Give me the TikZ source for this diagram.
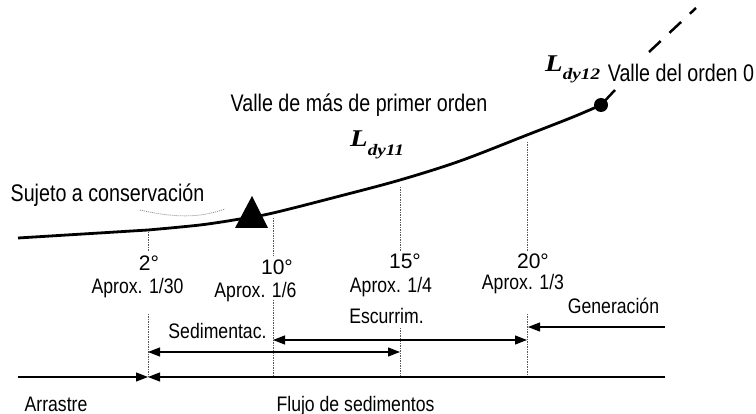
\documentclass[tikz,border=0pt]{standalone}
\usepackage{fontspec}
\setmainfont{Liberation Sans}
\newfontfamily\nsmall[FakeStretch=0.84]{Liberation Sans}
\newfontfamily\nbig[FakeStretch=0.82]{Liberation Sans}
\newfontfamily\lfont[FakeStretch=1.2]{Liberation Serif}
\usetikzlibrary{arrows.meta}
\begin{document}
\begin{tikzpicture}[x=1pt,y=-1pt,
  lbl/.style={font=\nsmall\fontsize{21}{21}\selectfont, inner sep=0pt, anchor=base},
  big/.style={font=\nbig\fontsize{24}{24}\selectfont, inner sep=0pt, anchor=base},
  deg/.style={font=\fontsize{21}{21}\selectfont, inner sep=0pt, anchor=base},
  guide/.style={black!65, line width=0.8pt, dash pattern=on 1.5pt off 1pt},
  flow/.style={line width=1.2pt, -{Triangle[length=12pt,width=9pt]}},
  both/.style={line width=1.2pt, {Triangle[length=12pt,width=9pt]}-{Triangle[length=12pt,width=9pt]}},
  profile/.style={line width=2.8pt, line join=round}]
\useasboundingbox (0,0) rectangle (756,414);

% longitudinal profile
\coordinate (s0) at (18,238);
\draw[profile] (s0) -- plot[smooth, tension=0.55] coordinates {(148,230) (200,225) (240,219) (273,213) (340,196) (400,180) (460,161) (527,135) (573,117) (601,105)};
\node[circle, fill=black, inner sep=0pt, minimum size=14pt] (dot) at (601,105) {};
\coordinate (d1) at (615,90);
\coordinate (d2) at (649,52);
\coordinate (d3) at (696,8);
\draw[line width=2.5pt] (dot.center) -- (d1);
\draw[line width=2.5pt, dash pattern=on 16pt off 12pt] (d2) -- (d3);
\fill (252,196) -- (235,228) -- (268,228) -- cycle;

% faint dotted arc
\draw[black!45, line width=0.8pt, dash pattern=on 1pt off 1pt] (140,210) .. controls (175,218) and (200,218) .. (225,209);

% vertical guides
\coordinate (g2a) at (148,232);  \coordinate (g2b) at (148,252);
\coordinate (g2c) at (148,314);  \coordinate (g2d) at (148,377);
\coordinate (g10a) at (273,218); \coordinate (g10b) at (273,256);
\coordinate (g10c) at (273,300); \coordinate (g10d) at (273,377);
\coordinate (g15a) at (400,187); \coordinate (g15b) at (400,252);
\coordinate (g15c) at (400,328); \coordinate (g15d) at (400,377);
\coordinate (g20a) at (527,142); \coordinate (g20b) at (527,252);
\coordinate (g20c) at (527,314); \coordinate (g20d) at (527,377);
\draw[guide] (g2a) -- (g2b) (g2c) -- (g2d);
\draw[guide] (g10a) -- (g10b) (g10c) -- (g10d);
\draw[guide] (g15a) -- (g15b) (g15c) -- (g15d);
\draw[guide] (g20a) -- (g20b) (g20c) -- (g20d);

% arrows
\coordinate (b0) at (18,377);
\coordinate (b2) at (148,377);
\coordinate (b1) at (665,377);
\draw[flow] (b0) -- (b2);
\draw[flow] (b1) -- (b2);
\coordinate (sa) at (148,352); \coordinate (sb) at (400,352);
\draw[both] (sa) -- (sb);
\coordinate (ea) at (273,340); \coordinate (eb) at (527,340);
\draw[both] (ea) -- (eb);
\coordinate (ga) at (665,327); \coordinate (gb) at (528,327);
\draw[flow] (ga) -- (gb);

% degree labels
\node[deg] (t2) at (149,271) {2°};
\node[deg] (t10) at (277,275) {10°};
\node[deg] (t15) at (405,269) {15°};
\node[deg] (t20) at (533,269) {20°};

% slope labels
\node[lbl] (a30) at (137.5,294) {Aprox. 1/30};
\node[lbl] (a6) at (255.5,298) {Aprox. 1/6};
\node[lbl] (a4) at (391,293) {Aprox. 1/4};
\node[lbl] (a3) at (523,290) {Aprox. 1/3};

% zone labels
\node[lbl] (esc) at (386.5,324) {Escurrim.};
\node[lbl] (sed) at (217.5,338.5) {Sedimentac.};
\node[lbl] (gen) at (613.5,314) {Generación};
\node[lbl] (arr) at (56,411) {Arrastre};
\node[lbl] (flu) at (355.5,411) {Flujo de sedimentos};

% top labels
\node[big] (suj) at (107.5,202) {Sujeto a conservación};
\node[big] (v1) at (359,112) {Valle de más de primer orden};
\node[big] (v0) at (681,82) {Valle del orden 0};
\node[inner sep=0pt, anchor=base west] (l11) at (350,147)
  {{\lfont\bfseries\itshape\fontsize{24}{24}\selectfont L}\raisebox{-9pt}{\lfont\bfseries\itshape\fontsize{16}{16}\selectfont dy11}};
\node[inner sep=0pt, anchor=base west] (l12) at (545,72)
  {{\lfont\bfseries\itshape\fontsize{24}{24}\selectfont L}\raisebox{-8pt}{\lfont\bfseries\itshape\fontsize{16}{16}\selectfont dy12}};
\end{tikzpicture}
\end{document}
